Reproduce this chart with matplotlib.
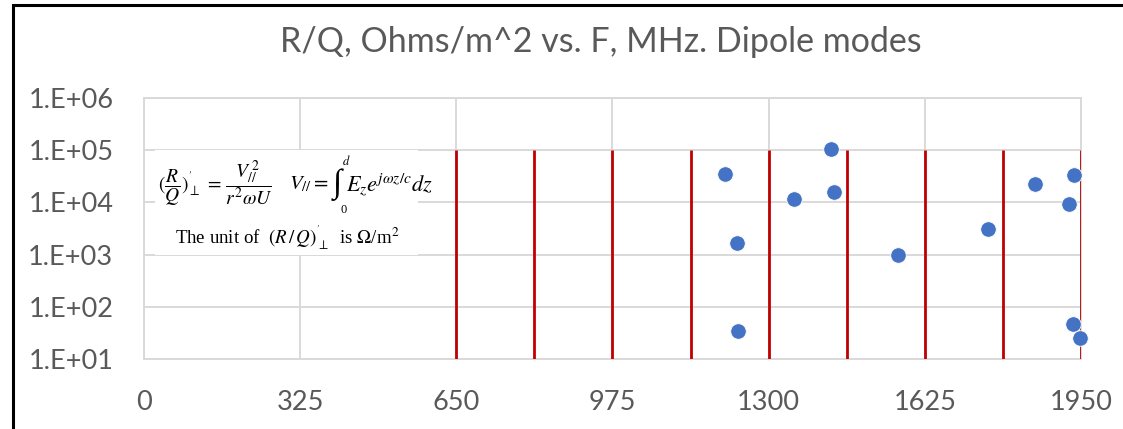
"""R/Q vs frequency, dipole modes - recreated Excel-style scatter."""
import numpy as np
import matplotlib
matplotlib.use("Agg")
import matplotlib.pyplot as plt
from matplotlib.patches import Rectangle
from matplotlib.ticker import FixedLocator, FuncFormatter

# ── data ─────────────────────────────────────────────────────────────────────
freq_mhz = [1209, 1235, 1237, 1352, 1430, 1435, 1570, 1756, 1855, 1936, 1926, 1933, 1948]
r_over_q = [34300, 1670, 35, 11600, 106000, 16000, 970, 3140, 22700, 32800, 9300, 47, 25]

red_lines = [650, 812.5, 975, 1137.5, 1300, 1462.5, 1625, 1787.5, 1950]
x_ticks = [0, 325, 650, 975, 1300, 1625, 1950]
y_ticks = [1e1, 1e2, 1e3, 1e4, 1e5, 1e6]

# ── palette ───────────────────────────────────────────────────────────────────
TXT  = "#595959"
GRID = "#d9d9d9"
RED  = "#c00000"
BLUE = "#4472c4"

plt.rcParams["font.family"] = ["Lato", "DejaVu Sans"]
plt.rcParams["mathtext.fontset"] = "stix"

W, H = 1123, 429
def px(x, y):
    """pixel position (from top-left) -> figure fraction"""
    return x / W, 1 - y / H

fig = plt.figure(figsize=(11.23, 4.29), dpi=100, facecolor="white")
ax = fig.add_axes([0.1282, 0.1632, 0.8344, 0.6084])

ax.set_yscale("log")
ax.set_xlim(0, 1950)
ax.set_ylim(10, 1e6)

ax.vlines(red_lines, 10, 1e5, color=RED, linewidth=2.0, zorder=3)
ax.scatter(freq_mhz, r_over_q, s=125, color=BLUE, edgecolors="white",
           linewidths=0.6, zorder=4, clip_on=False)

# ── axes ─────────────────────────────────────────────────────────────────────
ax.xaxis.set_major_locator(FixedLocator(x_ticks))
ax.yaxis.set_major_locator(FixedLocator(y_ticks))
ax.yaxis.set_minor_locator(FixedLocator([]))
ax.yaxis.set_major_formatter(FuncFormatter(lambda v, _: f"1.E+{int(round(np.log10(v))):02d}"))
ax.tick_params(axis="both", length=0, labelsize=19.5, labelcolor=TXT)
ax.tick_params(axis="x", pad=22)
ax.tick_params(axis="y", pad=22)
ax.grid(True, color=GRID, linewidth=1.4, zorder=0)
ax.set_axisbelow(True)
for spine in ax.spines.values():
    spine.set_color(GRID)
    spine.set_linewidth(1.4)

# ── formula inset (pasted picture in the original) ───────────────────────────
fig.patches.append(Rectangle(px(155, 255), 263 / W, 105 / H,
                             transform=fig.transFigure, facecolor="white",
                             edgecolor="none", zorder=1))
fig.text(*px(158, 184),
         r"$(\dfrac{R}{Q})^{'}_{\perp}\,=\,\dfrac{V_{//}^{\,2}}{r^{2}\omega U}$",
         fontsize=14, color="black", va="center", ha="left")
fig.text(*px(289, 184), r"$V_{//}=$", fontsize=15, color="black",
         va="center", ha="left")
fig.text(*px(337, 185), "\u222b", fontsize=24, color="black",
         va="center", ha="center", family="Liberation Serif")
fig.text(*px(342, 160), r"$d$", fontsize=9, color="black",
         va="center", ha="left")
fig.text(*px(340, 210), "0", fontsize=9, color="black",
         va="center", ha="left", family="Liberation Serif")
fig.text(*px(346, 185), r"$E_{z}e^{j\omega z/c}dz$", fontsize=16,
         color="black", va="center", ha="left")
fig.text(*px(175, 238),
         r"The unit of  $(R\,/\,Q)^{'}_{\perp}$  is $\Omega$/m$^{2}$",
         fontsize=13.6, color="black", va="center", ha="left",
         family="Liberation Serif")

# ── title / frame ────────────────────────────────────────────────────────────
fig.text(0.535, 1 - 42 / H, "R/Q, Ohms/m^2 vs. F, MHz. Dipole modes",
         fontsize=24.5, color=TXT, ha="center", va="center")
fig.patches.append(Rectangle((13 / W, -0.2), 1.2, 1.2 - 5 / H,
                             transform=fig.transFigure, fill=False,
                             edgecolor="black", linewidth=2.2, zorder=10))

plt.savefig("out.png", dpi=100, facecolor="white")
plt.close()
